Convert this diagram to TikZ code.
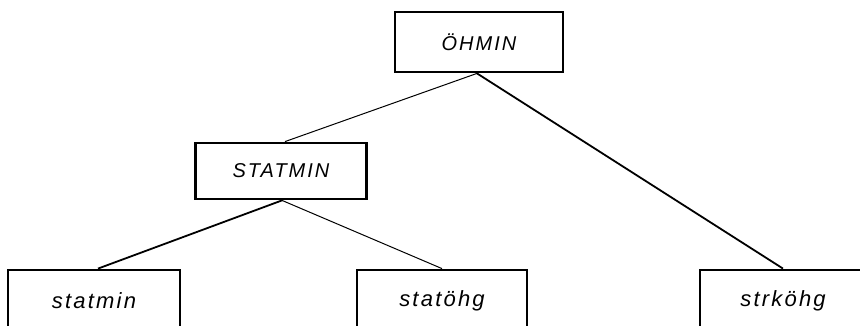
\documentclass[tikz,border=0pt]{standalone}
\usepackage{fontspec}
\newfontfamily\capfont{Liberation Sans}[LetterSpace=10]
\tikzset{
  box/.style={draw=black, line width=2.8pt, rectangle, inner sep=0pt, fill=none},
  topbox/.style={box, minimum width=168pt, minimum height=60pt, font=\capfont\itshape\fontsize{20}{20}\selectfont},
  leafbox/.style={box, minimum width=172pt, minimum height=62pt, font=\capfont\itshape\fontsize{22}{22}\selectfont},
  thin/.style={line width=1.0pt},
  thick/.style={line width=1.8pt}
}
\begin{document}
\begin{tikzpicture}[x=1pt,y=-1pt]
\useasboundingbox (0,0) rectangle (860,326);
\clip (0,0) rectangle (860,326);
\fill[white] (0,0) rectangle (860,326);
\node[topbox] (oh) at (479,42) {ÖHMIN};
\node[topbox, minimum width=171pt, minimum height=56pt] (st) at (281,171) {STATMIN};
\node[leafbox] (sm) at (94,301) {statmin};
\node[leafbox, minimum width=170pt] (so) at (442,301) {statöhg};
\node[leafbox, minimum width=166pt] (sk) at (783,301) {strköhg};
\draw[thin] ([xshift=-2pt]oh.south) -- ([xshift=4pt]st.north);
\draw[thick] ([xshift=-2pt]oh.south) -- (sk.north);
\draw[thick] ([xshift=1pt]st.south) -- ([xshift=4pt]sm.north);
\draw[thin] ([xshift=1pt]st.south) -- (so.north);
\end{tikzpicture}
\end{document}
